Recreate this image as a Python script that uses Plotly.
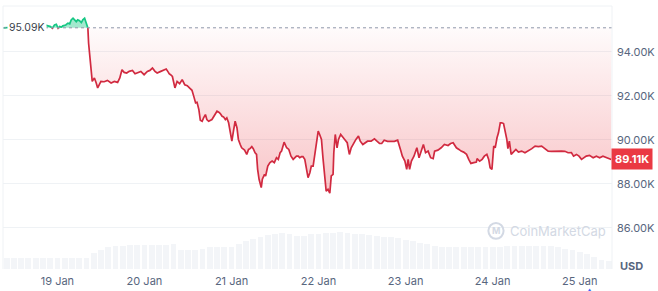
import numpy as np
import pandas as pd
import plotly.graph_objects as go

# ---------------- data ----------------
start = pd.Timestamp("2026-01-18 09:00")
base_price = 95090
last_price = 89110

hours = [0, 3.3, 6.8, 9.0, 10.6, 11.5, 12.4, 13.1, 13.6, 14.2, 14.7, 15.2, 15.6, 16.1, 16.5, 17.3, 17.9, 18.4,
         18.8, 19.3, 19.7, 20.2, 20.6, 21.1, 21.6, 22.0, 22.5, 22.9, 23.2, 23.4, 23.6, 24.0, 24.3, 24.6, 24.9,
         25.2, 25.7, 26.1, 27.0, 27.9, 28.8, 29.8, 30.7, 31.6, 32.2, 32.8, 33.4, 34.1, 34.8, 35.7, 36.4, 37.1,
         38.0, 38.9, 39.8, 40.5, 41.2, 41.9, 42.5, 43.5, 44.4, 45.0, 45.6, 45.8, 46.2, 46.7, 47.4, 48.0, 48.7,
         49.4, 50.1, 50.8, 51.4, 52.1, 52.6, 53.1, 53.5, 54.0, 54.4, 54.9, 55.3, 55.8, 56.2, 56.7, 57.6, 58.5,
         59.0, 59.5, 59.9, 60.4, 60.8, 61.3, 61.7, 62.2, 62.7, 63.1, 63.6, 64.0, 64.5, 64.9, 65.4, 65.8, 66.6,
         67.2, 67.7, 68.1, 68.6, 69.0, 69.5, 69.9, 70.2, 70.6, 71.2, 71.5, 72.1, 72.4, 73.0, 73.6, 74.2, 74.8,
         75.4, 75.9, 76.4, 76.8, 77.5, 78.2, 78.8, 79.4, 80.0, 80.5, 80.9, 81.4, 81.8, 82.3, 82.7, 83.2, 83.6,
         84.1, 84.6, 85.0, 85.5, 85.9, 86.4, 86.9, 87.3, 87.8, 88.2, 88.7, 89.1, 89.6, 90.1, 90.5, 91.0, 91.2,
         91.6, 92.1, 92.5, 93.1, 93.7, 94.2, 94.9, 95.5, 96.0, 96.7, 97.3, 98.0, 98.5, 99.2, 99.8, 100.5, 101.5,
         102.4, 103.1, 103.8, 104.4, 105.1, 106.0, 106.9, 107.9, 108.8, 109.2, 109.7, 110.1, 110.8, 111.3,
         111.7, 112.1, 112.6, 113.3, 114.1, 114.7, 115.2, 115.9, 116.5, 117.2, 117.9, 118.6, 119.0, 119.9,
         120.8, 121.7, 122.7, 123.4, 124.1, 125.0, 125.7, 126.3, 127.0, 127.8, 128.4, 129.0, 129.8, 130.5,
         130.7, 131.4, 132.1, 132.7, 133.4, 133.9, 134.3, 134.8, 135.3, 135.7, 136.2, 136.6, 137.1, 137.5,
         138.0, 138.4, 138.9, 139.2, 139.6, 140.1, 140.7, 141.4, 142.1, 143.0, 143.9, 144.8, 145.8, 146.7,
         147.6, 148.5, 149.4, 150.3, 151.2, 152.1, 153.1, 154.0, 154.9, 155.8, 156.7, 157.3, 158.1, 158.8,
         159.5, 160.1, 160.8, 161.7, 162.7, 163.6, 164.5, 165.4, 166.3, 167.2, 167.7]

price = [95090, 95130, 95150, 95130, 95190, 95220, 95180, 95145, 95070, 95220, 95250, 95070, 95145, 95120,
         95180, 95220, 95300, 95270, 95450, 95525, 95450, 95370, 95450, 95415, 95325, 95450, 95525, 95370,
         95180, 95070, 94390, 93640, 92880, 92655, 92735, 92810, 92585, 92360, 92655, 92640, 92700, 92585,
         92655, 92610, 92810, 93185, 93065, 93035, 93110, 93155, 93005, 93065, 93110, 92960, 93110, 93155,
         93260, 93110, 93035, 93110, 93185, 93215, 93065, 93005, 92960, 92880, 92360, 92655, 92550, 92735,
         92505, 92460, 92360, 92250, 91975, 91680, 91705, 91375, 90890, 90845, 91000, 91150, 90925, 90845,
         90925, 91150, 91300, 91255, 91195, 91070, 91045, 90925, 91000, 90775, 90395, 89940, 90470, 90845,
         90550, 90020, 89790, 89640, 89535, 89340, 89565, 89600, 89690, 89600, 89415, 89340, 88660, 88210,
         87830, 88210, 88435, 88360, 88810, 88965, 89035, 88965, 89190, 89115, 89415, 89490, 89895, 89640,
         89565, 89260, 89115, 89190, 89260, 89260, 89190, 89235, 89235, 89115, 88660, 88285, 88510, 88810,
         88810, 89260, 89790, 90395, 90245, 90020, 89205, 88165, 87665, 87755, 87575, 88360, 88435, 89415,
         90245, 89640, 90020, 90245, 90095, 90020, 89870, 89340, 89640, 89870, 90020, 90170, 89940, 89790,
         89870, 89940, 89940, 90050, 89940, 89835, 89835, 89985, 89930, 89940, 89930, 89985, 89715, 89490,
         89260, 89035, 88660, 89115, 88660, 89035, 89260, 89640, 89190, 89490, 89790, 89415, 89490, 89190,
         89145, 89490, 89535, 89640, 89790, 89745, 89835, 89870, 89640, 89565, 89490, 89445, 89340, 89115,
         88930, 88965, 88990, 89145, 89035, 89115, 89260, 89340, 89115, 88735, 88660, 89715, 89640, 90095,
         90320, 90775, 90775, 90740, 90470, 90020, 89600, 89940, 89340, 89445, 89565, 89445, 89490, 89415,
         89490, 89600, 89715, 89690, 89715, 89600, 89490, 89480, 89490, 89470, 89490, 89480, 89415, 89420,
         89260, 89340, 89260, 89115, 89190, 89260, 89295, 89190, 89260, 89190, 89260, 89190, 89145, 89110]

vol_hours = list(range(0, 168, 2))
volume = [2.5, 2.5, 2.5, 2.5, 2.5, 2.5, 2.5, 2.5, 2.5, 2.5, 2.5, 2.5,
          3.6, 4.4, 5.0, 5.2, 5.3, 5.4, 5.4, 5.5, 5.5, 5.5, 5.5, 5.6,
          4.4, 4.3, 4.3, 4.5, 5.0, 5.0, 5.0, 5.1, 5.8, 6.3, 6.9, 7.4,
          7.7, 8.1, 8.3, 8.0, 7.6, 7.6, 7.9, 8.1, 8.3, 8.3, 8.4, 8.3,
          8.1, 7.9, 7.8, 7.6, 7.4, 7.2, 7.0, 6.7, 6.5, 6.0, 5.6, 5.2,
          5.1, 5.0, 5.0, 5.0, 5.0, 5.0, 5.0, 5.1, 5.1, 5.2, 5.2, 5.3,
          5.3, 5.3, 5.2, 5.2, 5.0, 4.6, 4.4, 3.9, 3.4, 2.8, 2.0, 1.8]

y_ticks = [86000, 88000, 90000, 92000, 94000]
y_tick_text = ["86.00K", "88.00K", "90.00K", "92.00K", "94.00K"]
base_label = "95.09K"
last_label = "89.11K"

# ---------------- styling ----------------
RED = "#ea3943"
RED_LINE = "#d12a40"
GREEN = "#16c784"
TXT = "#58667e"
GRID = "#eff2f5"
FONT = "Inter"

# insert crossing points with the baseline so fills/lines split cleanly
h2, p2 = [], []
for i in range(len(hours)):
    if i > 0:
        a, b = price[i - 1] - base_price, price[i] - base_price
        if a * b < 0:
            f = a / (a - b)
            h2.append(hours[i - 1] + f * (hours[i] - hours[i - 1]))
            p2.append(base_price)
    h2.append(hours[i])
    p2.append(price[i])
p2 = np.array(p2, dtype=float)
t = start + pd.to_timedelta(h2, unit="h")
lower = np.minimum(p2, base_price)
upper = np.maximum(p2, base_price)
red_line = np.where(p2 <= base_price, p2, np.nan)
green_line = np.where(p2 >= base_price, p2, np.nan)
base_arr = np.full(len(p2), base_price, dtype=float)

vt = start + pd.to_timedelta(np.array(vol_hours) + 1, unit="h")

fig = go.Figure()
fig.add_trace(go.Bar(x=vt, y=volume, yaxis="y2", marker=dict(color="rgba(200,209,225,0.22)", line=dict(width=0)),
                     width=2 * 3600 * 1000 * 0.8, hoverinfo="skip", showlegend=False))
fig.add_trace(go.Scatter(x=t, y=base_arr, mode="lines", line=dict(width=0), showlegend=False, hoverinfo="skip"))
fig.add_trace(go.Scatter(x=t, y=lower, mode="lines", line=dict(width=0), fill="tonexty",
                         fillgradient=dict(type="vertical",
                                           colorscale=[[0, "rgba(234,57,67,0.30)"], [1, "rgba(234,57,67,0.02)"]],
                                           start=87500, stop=base_price),
                         showlegend=False, hoverinfo="skip"))
fig.add_trace(go.Scatter(x=t, y=base_arr, mode="lines", line=dict(width=0), showlegend=False, hoverinfo="skip"))
fig.add_trace(go.Scatter(x=t, y=upper, mode="lines", line=dict(width=0), fill="tonexty",
                         fillcolor="rgba(22,199,132,0.40)", showlegend=False, hoverinfo="skip"))
fig.add_trace(go.Scatter(x=t, y=red_line, mode="lines", line=dict(color=RED_LINE, width=1.7),
                         connectgaps=False, showlegend=False))
fig.add_trace(go.Scatter(x=t, y=green_line, mode="lines", line=dict(color=GREEN, width=1.7),
                         connectgaps=False, showlegend=False))

x0 = start
x1 = start + pd.Timedelta(hours=167.9)

fig.update_layout(
    width=658, height=291,
    margin=dict(l=3, r=42, t=6, b=21, pad=0),
    paper_bgcolor="white", plot_bgcolor="white",
    font=dict(family=FONT, size=11, color=TXT),
    showlegend=False,
    bargap=0,
    xaxis=dict(range=[x0, x1], type="date", showgrid=False, zeroline=False, showline=False,
               tickformat="%-d %b", dtick=86400000, tick0="2026-01-19",
               tickfont=dict(family=FONT, size=11, color=TXT), ticks="", ticklabelstandoff=4),
    yaxis=dict(range=[84135, 96080], side="right", tickvals=y_ticks, ticktext=y_tick_text,
               showgrid=True, gridcolor=GRID, gridwidth=1, zeroline=False, showline=False,
               tickfont=dict(family=FONT, size=11, color=TXT), ticks="", ticklabelstandoff=4),
    yaxis2=dict(range=[0, 60], overlaying="y", visible=False),
    shapes=[
        dict(type="line", xref="paper", yref="y", x0=0, x1=1, y0=base_price, y1=base_price,
             line=dict(color="#8f98aa", width=1, dash="dot"), layer="above"),
        dict(type="line", xref="paper", yref="paper", x0=0, x1=1, y0=1, y1=1, line=dict(color=GRID, width=1)),
        dict(type="line", xref="paper", yref="paper", x0=0, x1=0, y0=0, y1=1, line=dict(color=GRID, width=1)),
        dict(type="line", xref="paper", yref="paper", x0=1, x1=1, y0=0, y1=1, line=dict(color=GRID, width=1)),
        dict(type="circle", xref="paper", yref="paper", x0=0.797, x1=0.822, y0=0.115, y1=0.175,
             line=dict(color="#d3d9e4", width=2)),
    ],
    annotations=[
        dict(xref="paper", yref="y", x=0, y=base_price, xanchor="left", yanchor="middle", xshift=4,
             text=base_label, showarrow=False, bgcolor="white", borderpad=1,
             font=dict(family=FONT, size=10.5, color="#3a3f4b")),
        dict(xref="paper", yref="y", x=1, y=last_price, xanchor="left", yanchor="middle", xshift=-1,
             text="<b>" + last_label + "</b>", showarrow=False, bgcolor=RED, borderpad=3,
             font=dict(family=FONT, size=11, color="white")),
        dict(xref="paper", yref="paper", x=1, y=0.012, xanchor="left", yanchor="middle", xshift=6,
             text="<b>USD</b>", showarrow=False, font=dict(family=FONT, size=11, color=TXT)),
        dict(xref="paper", yref="paper", x=0.809, y=0.145, xanchor="center", yanchor="middle",
             text="<b>M</b>", showarrow=False, font=dict(family=FONT, size=9, color="#d3d9e4")),
        dict(xref="paper", yref="paper", x=0.829, y=0.145, xanchor="left", yanchor="middle",
             text="CoinMarketCap", showarrow=False, font=dict(family=FONT, size=13, color="#d3d9e4")),
        dict(xref="paper", yref="paper", x=0.963, y=-0.085, xanchor="center", yanchor="middle",
             text="▲", showarrow=False, font=dict(family=FONT, size=7, color="#3861fb")),
    ],
)

fig.write_html("out.html")
